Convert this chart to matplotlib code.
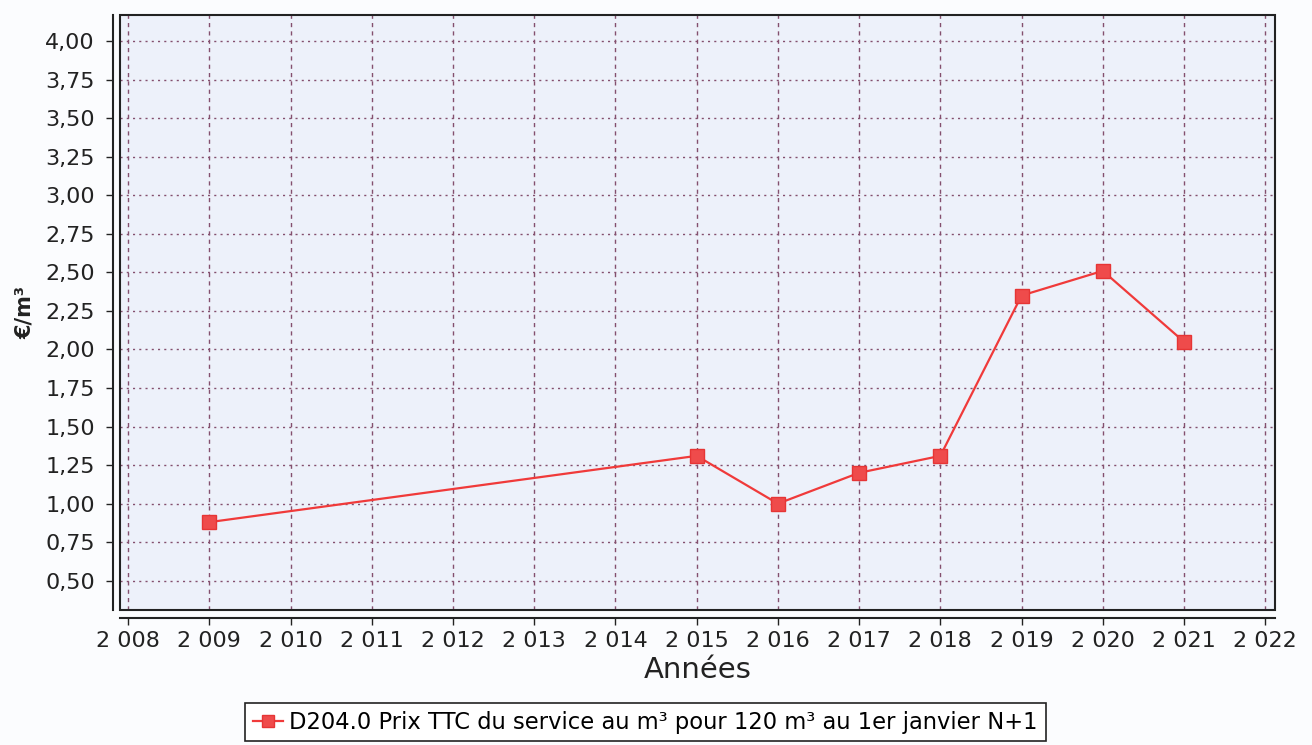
import matplotlib.pyplot as plt
from matplotlib.patches import Rectangle
from matplotlib.ticker import FuncFormatter, MultipleLocator

plt.rcParams['font.family'] = ['DejaVu Sans']

# Valeurs (D204.0, €/m³)
annees = [2009, 2015, 2016, 2017, 2018, 2019, 2020, 2021]
prix = [0.88, 1.31, 1.00, 1.20, 1.31, 2.35, 2.51, 2.05]
libelle = "D204.0 Prix TTC du service au m³ pour 120 m³ au 1er janvier N+1"

W, H = 1312, 745
fig = plt.figure(figsize=(W / 100, H / 100), dpi=100, facecolor='#fbfcfe')
ax = fig.add_axes([120 / W, 1 - 610 / H, 1155 / W, 595 / H])
ax.set_facecolor('#edf1fa')

ax.plot(annees, prix, color='#f03a3a', lw=1.6, marker='s', markersize=10,
        markerfacecolor='#ef4b4b', markeredgecolor='#e63535', label=libelle, zorder=3)

ax.set_xlim(2007.90, 2022.12)
ax.set_ylim(0.31, 4.17)
ax.xaxis.set_major_locator(MultipleLocator(1))
ax.yaxis.set_major_locator(MultipleLocator(0.25))
ax.xaxis.set_major_formatter(FuncFormatter(lambda v, p: f"{int(round(v)):,}".replace(",", " ")))
ax.yaxis.set_major_formatter(FuncFormatter(lambda v, p: f"{v:.2f}".replace(".", ",")))

# grille pointillée
ax.grid(True, axis='x', color='#84506e', lw=1.0, linestyle=(0, (3, 3)))
ax.grid(True, axis='y', color='#84506e', lw=1.0, linestyle=(0, (1.5, 3)))
ax.set_axisbelow(True)

# cadre de la zone de tracé + axes décalés (style JFreeChart)
ax.spines['top'].set_visible(False)
ax.spines['right'].set_visible(False)
ax.spines['left'].set_position(('outward', 5))
ax.spines['bottom'].set_position(('outward', 6))
for s in ('left', 'bottom'):
    ax.spines[s].set_linewidth(1.5)
    ax.spines[s].set_color('#222222')
ax.add_patch(Rectangle((0, 0), 1, 1, transform=ax.transAxes, fill=False,
                       edgecolor='#222222', lw=1.5, zorder=4, clip_on=False))

ax.tick_params(axis='both', labelsize=16, colors='#222222', length=5, width=1)
ax.tick_params(axis='y', pad=8)
ax.tick_params(axis='x', pad=4)

ax.set_xlabel("Années", fontsize=21, color='#222222')
ax.xaxis.label.set_va('center')
ax.xaxis.set_label_coords(0.5, -0.10)
ax.set_ylabel("€/m³", fontsize=15, fontweight='bold', color='#222222')
ax.yaxis.label.set_va('center')
ax.yaxis.set_label_coords(-0.082, 0.5)

leg = fig.legend(loc='center', bbox_to_anchor=((242 + 1049) / 2 / W, 1 - 722 / H),
                 fontsize=16.3, frameon=True, fancybox=False, framealpha=1,
                 edgecolor='#222222', handlelength=1.3, handletextpad=0.3,
                 borderpad=0.35, markerscale=0.8)
leg.get_frame().set_linewidth(1.2)

fig.savefig('out.png', dpi=100, facecolor=fig.get_facecolor())
